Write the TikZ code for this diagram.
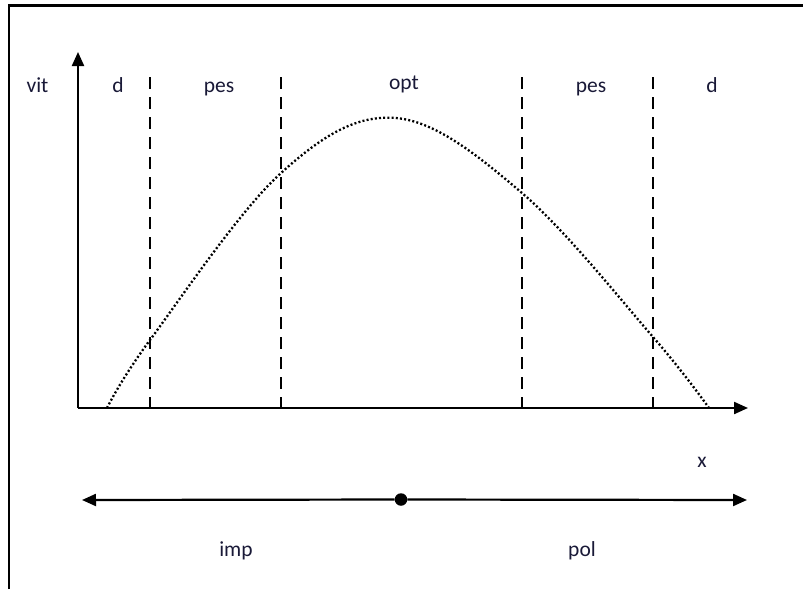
\documentclass[tikz,border=0pt]{standalone}
\usepackage{fontspec}
\setmainfont{Carlito}
\usetikzlibrary{arrows.meta}
\definecolor{txtcol}{RGB}{25,25,55}
\begin{document}
\begin{tikzpicture}[x=1pt,y=-1pt,
  frameline/.style={line width=2.4pt},
  axisline/.style={line width=2.2pt,-{Triangle[length=14pt,width=12pt]}},
  sepline/.style={line width=2.4pt,dash pattern=on 12pt off 8pt},
  curveline/.style={line width=2.3pt,dash pattern=on 2pt off 2.2pt},
  lbl/.style={font=\fontsize{21.5}{21.5}\selectfont,text=txtcol,anchor=base,inner sep=0pt},
  dotnode/.style={circle,fill=black,inner sep=0pt,minimum size=12.5pt}]
\useasboundingbox (0,0) rectangle (803,589);
% frame
\coordinate (FB) at (9,589);
\coordinate (FC) at (9,5.5);
\coordinate (FR) at (803,5.5);
\draw[frameline] (FB) -- (FC) -- (FR);
% axes
\coordinate (O) at (78,408);
\coordinate (Ytip) at (78,52);
\coordinate (Xtip) at (748,408);
\draw[axisline] (O) -- (Ytip);
\draw[axisline] (O) -- (Xtip);
% separators
\foreach \n/\xx in {s1/150,s2/281,s3/522,s4/653}{
  \coordinate (\n top) at (\xx,77);
  \coordinate (\n bot) at (\xx,408);
  \draw[sepline] (\n top) -- (\n bot);
}
% curve
\draw[curveline] plot[smooth,tension=0.6] coordinates {(107,408) (150,340) (281,173) (396,118) (522,193) (653,337) (709,408)};
% top labels
\node[lbl] (vit) at (37.5,92) {vit};
\node[lbl] (d1) at (118,92) {d};
\node[lbl] (pes1) at (219,92) {pes};
\node[lbl] (opt) at (404,89) {opt};
\node[lbl] (pes2) at (591,92) {pes};
\node[lbl] (d2) at (712,92) {d};
\node[lbl] (xl) at (702,467) {x};
% bottom line
\node[dotnode] (mid) at (401,499.5) {};
\coordinate (L) at (82,500);
\coordinate (R) at (747,500);
\draw[axisline] (mid) -- (L);
\draw[axisline] (mid) -- (R);
\node[lbl] (imp) at (236,556) {imp};
\node[lbl] (pol) at (582,556) {pol};
\end{tikzpicture}
\end{document}
